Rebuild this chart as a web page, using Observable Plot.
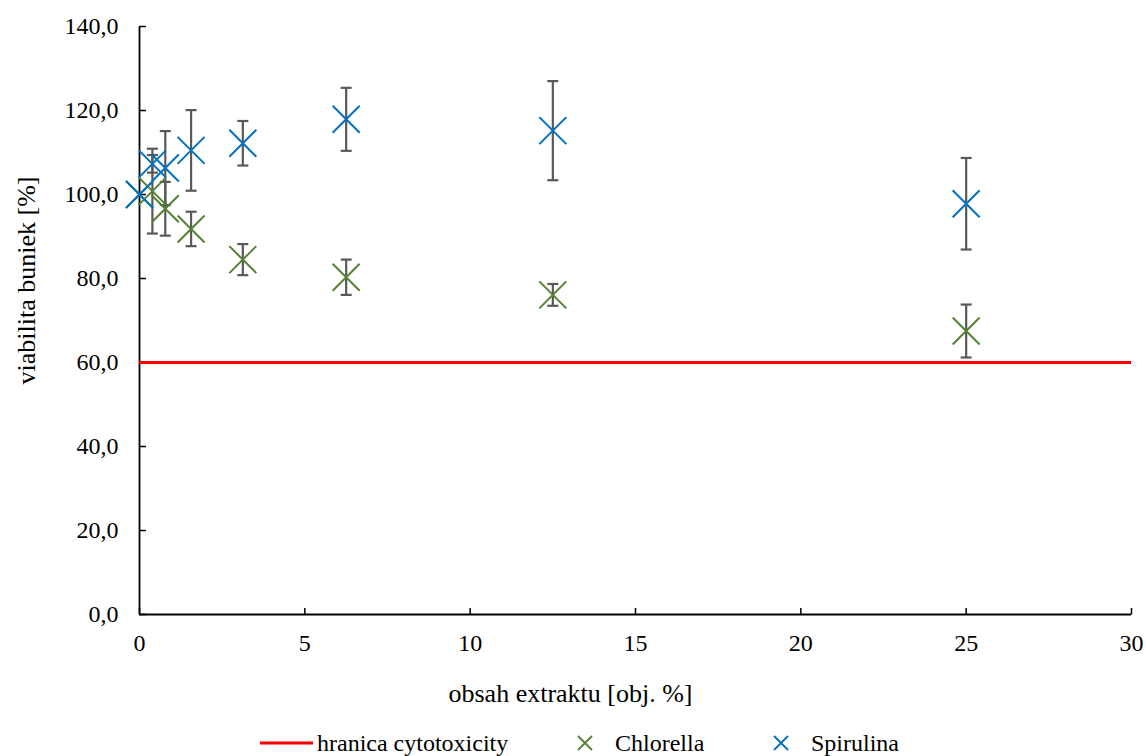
<!DOCTYPE html>
<html>
<head>
<meta charset="utf-8">
<script src="https://cdn.jsdelivr.net/npm/d3@7"></script>
<script src="https://cdn.jsdelivr.net/npm/@observablehq/plot@0.6"></script>
<style>
  html, body { margin: 0; padding: 0; background: #fff; }
  #wrap { position: relative; width: 1146px; height: 756px; font-family: "Liberation Serif", "Times New Roman", serif; }
  #legend .item { position: absolute; top: 728px; height: 30px; display: flex; align-items: center; font-size: 24px; color: #000; white-space: nowrap; }
  #legend svg { display: block; }
</style>
</head>
<body>
<div id="wrap">
  <div id="chart"></div>
  <div id="legend"></div>
</div>
<script>
// ---- data ----
const concentrations = [0, 0.39, 0.78, 1.56, 3.125, 6.25, 12.5, 25];
const chlorella      = [100, 100.8, 96.6, 91.8, 84.5, 80.3, 76.1, 67.5];
const chlorellaErr   = [0, 10.1, 6.4, 4.1, 3.7, 4.2, 2.6, 6.3];
const spirulina      = [100, 107.3, 106.3, 110.5, 112.2, 117.9, 115.2, 97.8];
const spirulinaErr   = [0, 2.1, 8.8, 9.6, 5.3, 7.5, 11.8, 10.9];
const threshold = 60;
const seriesNames = ["hranica cytotoxicity", "Chlorella", "Spirulina"];
const xTicks = [0, 5, 10, 15, 20, 25, 30];
const yTicks = [0, 20, 40, 60, 80, 100, 120, 140];
const xTitle = "obsah extraktu [obj. %]";
const yTitle = "viabilita buniek [%]";

// ---- styles ----
const colors = { threshold: "#FF0000", Chlorella: "#548235", Spirulina: "#0070C0" };
const errColor = "#595959";
const serif = "'Liberation Serif', 'Times New Roman', serif";

const rows = [];
concentrations.forEach((c, i) => rows.push({series: "Chlorella", x: c, y: chlorella[i], e: chlorellaErr[i]}));
concentrations.forEach((c, i) => rows.push({series: "Spirulina", x: c, y: spirulina[i], e: spirulinaErr[i]}));
const errRows = rows.filter(d => d.e > 0);

const crossSymbol = { draw(ctx) { const r = 13.5; ctx.moveTo(-r, -r); ctx.lineTo(r, r); ctx.moveTo(-r, r); ctx.lineTo(r, -r); } };
const capSymbol = { draw(ctx) { ctx.moveTo(-5.5, 0); ctx.lineTo(5.5, 0); } };
const yTickSymbol = { draw(ctx) { ctx.moveTo(0, 0); ctx.lineTo(6.5, 0); } };
const xTickSymbol = { draw(ctx) { ctx.moveTo(0, 0); ctx.lineTo(0, -6.5); } };

const fmt = d => d.toFixed(1).replace(".", ",");

const chart = Plot.plot({
  width: 1146,
  height: 720,
  marginLeft: 139,
  marginRight: 15,
  marginTop: 26,
  marginBottom: 106,
  style: { fontFamily: serif, fontSize: "24px", color: "#000", background: "#fff" },
  x: { domain: [0, 30] },
  y: { domain: [0, 140] },
  marks: [
    Plot.axisY({ ticks: yTicks, tickSize: 0, tickPadding: 21, tickFormat: fmt, label: null, fontSize: 24 }),
    Plot.axisX({ ticks: xTicks, tickSize: 0, tickPadding: 19, tickFormat: d => String(d), label: null, fontSize: 24 }),
    Plot.text([yTitle], { frameAnchor: "left", rotate: -90, dx: -113, dy: -40, lineAnchor: "middle", textAnchor: "middle", fontSize: 26, fill: "#000" }),
    Plot.text([xTitle], { frameAnchor: "bottom", dx: -65, dy: 79, lineAnchor: "middle", textAnchor: "middle", fontSize: 26, fill: "#000" }),
    Plot.dot(yTicks, { x: () => 0, y: d => d, symbol: yTickSymbol, r: 1, stroke: "#000", strokeWidth: 1.5, fill: "none" }),
    Plot.dot(xTicks, { x: d => d, y: () => 0, symbol: xTickSymbol, r: 1, stroke: "#000", strokeWidth: 1.5, fill: "none" }),
    Plot.ruleX([0], { stroke: "#000", strokeWidth: 1.8 }),
    Plot.ruleY([0], { stroke: "#000", strokeWidth: 1.8 }),
    Plot.ruleY([threshold], { stroke: colors.threshold, strokeWidth: 3 }),
    Plot.ruleX(errRows, { x: "x", y1: d => d.y - d.e, y2: d => d.y + d.e, stroke: errColor, strokeWidth: 2.2 }),
    Plot.dot(errRows, { x: "x", y: d => d.y - d.e, symbol: capSymbol, r: 1, stroke: errColor, strokeWidth: 2.2, fill: "none" }),
    Plot.dot(errRows, { x: "x", y: d => d.y + d.e, symbol: capSymbol, r: 1, stroke: errColor, strokeWidth: 2.2, fill: "none" }),
    Plot.dot(rows.filter(d => d.series === "Chlorella"), { x: "x", y: "y", symbol: crossSymbol, r: 1, stroke: colors.Chlorella, strokeWidth: 2, fill: "none" }),
    Plot.dot(rows.filter(d => d.series === "Spirulina"), { x: "x", y: "y", symbol: crossSymbol, r: 1, stroke: colors.Spirulina, strokeWidth: 2, fill: "none" })
  ]
});
document.getElementById("chart").appendChild(chart);

// ---- legend ----
const legend = document.getElementById("legend");
function addItem(name, swatchSvg, gap, left) {
  const item = document.createElement("div");
  item.className = "item";
  item.style.left = left + "px";
  item.innerHTML = swatchSvg;
  const span = document.createElement("span");
  span.textContent = name;
  span.style.marginLeft = gap + "px";
  item.appendChild(span);
  legend.appendChild(item);
}
addItem(seriesNames[0], `<svg width="53" height="14"><line x1="0" y1="7" x2="53" y2="7" stroke="${colors.threshold}" stroke-width="3"/></svg>`, 4, 260);
const xSw = c => `<svg width="16" height="16"><path d="M1,1L15,15M1,15L15,1" stroke="${c}" stroke-width="1.8" fill="none"/></svg>`;
addItem(seriesNames[1], xSw(colors.Chlorella), 22, 577);
addItem(seriesNames[2], xSw(colors.Spirulina), 22, 773);
</script>
</body>
</html>
